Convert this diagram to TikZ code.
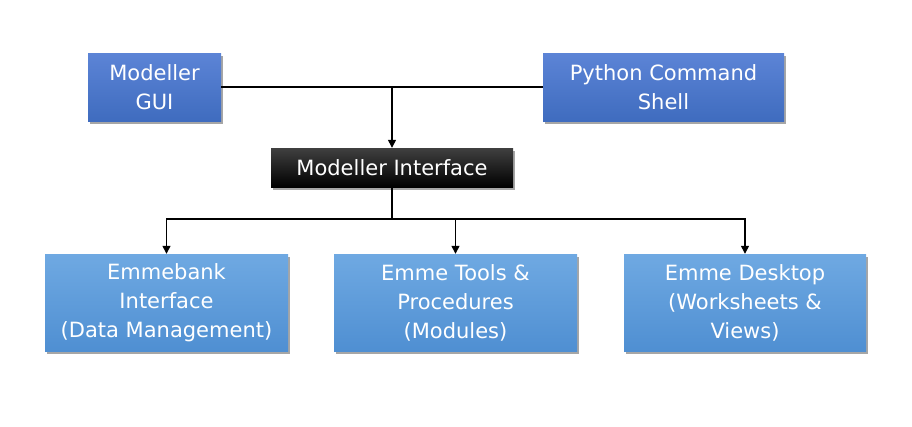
\documentclass[tikz,border=0pt]{standalone}
\usepackage{fontspec}
\setmainfont{DejaVu Sans}
\usetikzlibrary{shadows,arrows.meta}
\definecolor{topA}{HTML}{5C84D6}
\definecolor{topB}{HTML}{3F6CBF}
\definecolor{botA}{HTML}{6FA9E2}
\definecolor{botB}{HTML}{4F8FD2}
\definecolor{blkA}{HTML}{404040}
\definecolor{blkB}{HTML}{000000}
\tikzset{
  x=1pt,y=-1pt,
  box/.style={inner sep=0pt, align=center, text=white, font=\fontsize{21}{29}\selectfont,
    drop shadow={shadow xshift=2pt,shadow yshift=-3pt,opacity=0.35,fill=black}},
  topbox/.style={box, top color=topA, bottom color=topB, minimum width=133pt, minimum height=68pt},
  botbox/.style={box, top color=botA, bottom color=botB, minimum width=243pt, minimum height=97pt},
  ifbox/.style={box, top color=blkA, bottom color=blkB, minimum width=242pt, minimum height=39pt},
  conn/.style={draw=black, line width=1.3pt},
  arr/.style={conn, -{Triangle[length=8pt,width=8pt]}}
}
\begin{document}
\begin{tikzpicture}
\useasboundingbox (0,0) rectangle (912,426);
\node[topbox] (gui) at (154.5,87) {Modeller\\GUI};
\node[topbox, minimum width=241pt] (py) at (663.5,87) {Python Command\\Shell};
\node[ifbox] (mi) at (392,167.5) {Modeller Interface};
\node[botbox] (eb) at (166.5,302.5) {Emmebank\\Interface\\(Data Management)};
\node[botbox] (et) at (455.5,302.5) {Emme Tools \&\\Procedures\\(Modules)};
\node[botbox, minimum width=242pt] (ed) at (745,302.5) {Emme Desktop\\(Worksheets \&\\Views)};
\coordinate (j1) at (392,87);
\coordinate (j2) at (392,219);
\draw[conn] (gui.east) -- (py.west);
\draw[arr] (j1) -- (mi.north);
\draw[conn] (mi.south) -- (j2);
\draw[arr] (j2) -| (eb.north);
\draw[arr] (j2) -| (et.north);
\draw[arr] (j2) -| (ed.north);
\end{tikzpicture}
\end{document}
